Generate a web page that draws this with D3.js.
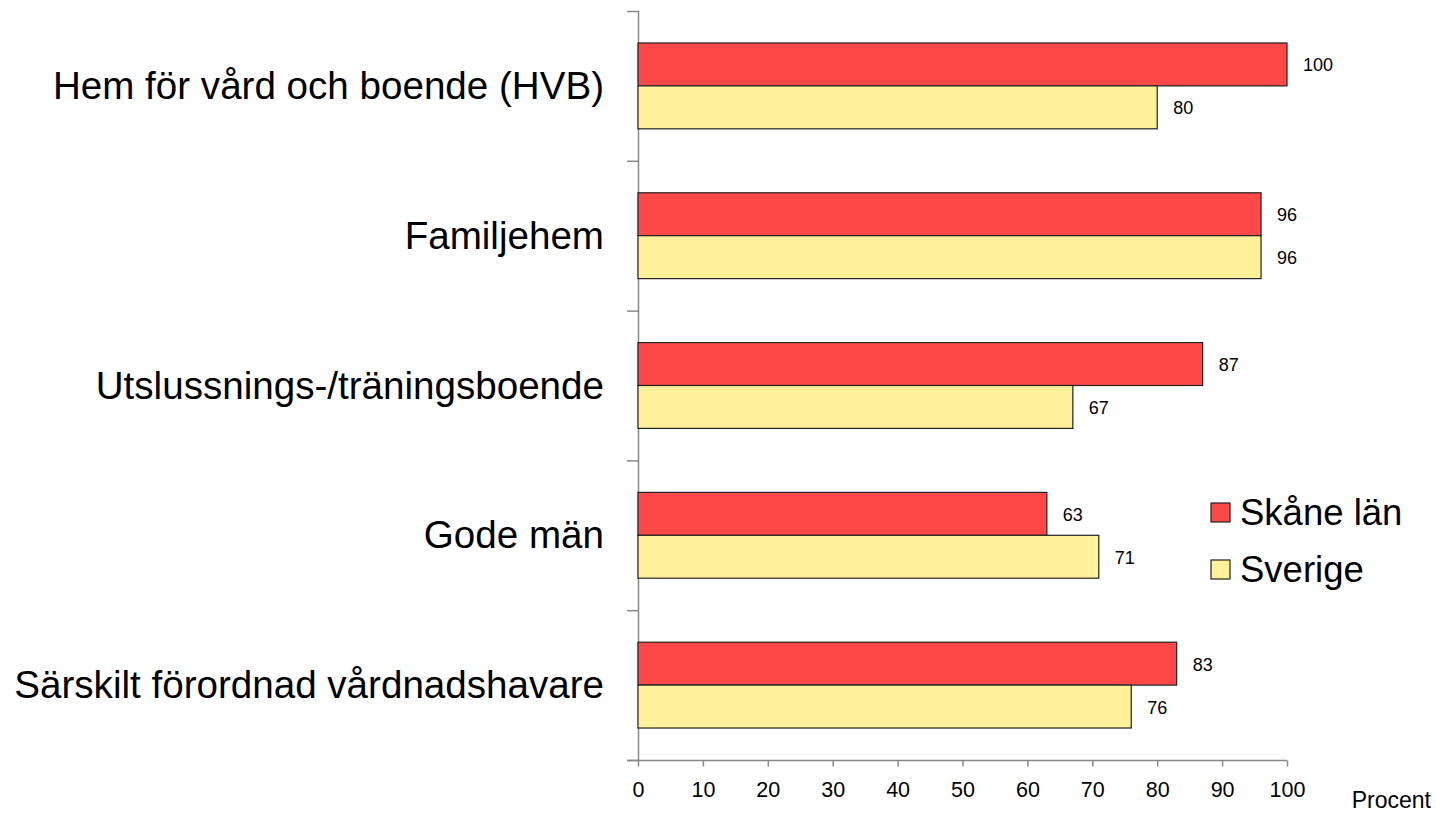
<!DOCTYPE html>
<html><head><meta charset="utf-8">
<script src="https://cdn.jsdelivr.net/npm/d3@7"></script>
<style>body{margin:0;background:#fff}svg{display:block}text{font-family:"Liberation Sans",Arial,sans-serif}</style>
</head><body><svg id="c" width="1436" height="813"></svg>
<script>
const categories = ["Hem för vård och boende (HVB)","Familjehem","Utslussnings-/träningsboende","Gode män","Särskilt förordnad vårdnadshavare"];
const seriesNames = ["Skåne län","Sverige"];
const skane = [100,96,87,63,83];
const sverige = [80,96,67,71,76];
const xTicks = [0,10,20,30,40,50,60,70,80,90,100];
const colors = ["#FF4848","#FFF09A"];

const svg = d3.select("#c");
const x = d3.scaleLinear().domain([0,100]).range([638,1287]);
const y = d3.scaleBand().domain(categories).range([11,760]).paddingInner(0.427).paddingOuter(0.2135);
const y2 = d3.scaleBand().domain(seriesNames).range([0,y.bandwidth()]);
const bandY = d3.scaleBand().domain(categories).range([11,760]);

const axisColor = "#888";
// y axis
const yAxis = svg.append("g");
yAxis.append("line").attr("x1",638.5).attr("x2",638.5).attr("y1",11).attr("y2",760).attr("stroke",axisColor).attr("stroke-width",1.5);
const yTickVals = categories.map(c=>bandY(c)).concat([760]);
yAxis.selectAll("line.t").data(yTickVals).enter().append("line")
  .attr("x1",627).attr("x2",638).attr("y1",d=>d+0.5).attr("y2",d=>d+0.5).attr("stroke",axisColor).attr("stroke-width",1.5);
// x axis
const xAxis = svg.append("g").attr("transform","translate(0,760.5)")
  .call(d3.axisBottom(x).tickValues(xTicks).tickSize(6).tickSizeOuter(0).tickPadding(0));
xAxis.select(".domain").remove();
xAxis.append("line").attr("x1",627).attr("x2",1287).attr("stroke",axisColor).attr("stroke-width",1.5);
xAxis.selectAll(".tick line").attr("stroke",axisColor).attr("stroke-width",1.5);
xAxis.selectAll(".tick text").attr("y",36.5).attr("dy",null).attr("font-size",21.5).attr("fill","#000").attr("font-family","Liberation Sans, Arial, sans-serif");

// bars
const data = categories.map((c,i)=>({c, vals:[{s:seriesNames[0],v:skane[i],k:0},{s:seriesNames[1],v:sverige[i],k:1}]}));
const g = svg.selectAll("g.cat").data(data).enter().append("g").attr("transform",d=>`translate(0,${y(d.c)})`);
g.selectAll("rect").data(d=>d.vals).enter().append("rect")
  .attr("x",x(0)).attr("y",d=>y2(d.s)).attr("width",d=>x(d.v)-x(0)).attr("height",y2.bandwidth())
  .attr("fill",d=>colors[d.k]).attr("stroke","#222").attr("stroke-width",1.2);
g.selectAll("text.v").data(d=>d.vals).enter().append("text")
  .attr("x",d=>x(d.v)+16).attr("y",d=>y2(d.s)+y2.bandwidth()/2+7)
  .attr("font-size",18).attr("fill","#000").text(d=>d.v);

// category labels
svg.selectAll("text.cat").data(categories).enter().append("text")
  .attr("x",604).attr("y",d=>bandY(d)+bandY.bandwidth()/2+13).attr("text-anchor","end")
  .attr("font-size",38.6).attr("fill","#000").text(d=>d);

// legend
const leg = svg.selectAll("g.leg").data(seriesNames).enter().append("g")
  .attr("transform",(d,i)=>`translate(1211,${503+i*57})`);
leg.append("rect").attr("width",19).attr("height",19).attr("fill",(d,i)=>colors[i]).attr("stroke","#222").attr("stroke-width",1.2);
leg.append("text").attr("x",29).attr("y",22).attr("font-size",36.5).attr("fill","#000").text(d=>d);

svg.append("text").attr("x",1431).attr("y",808).attr("text-anchor","end").attr("font-size",23).text("Procent");
</script></body></html>
